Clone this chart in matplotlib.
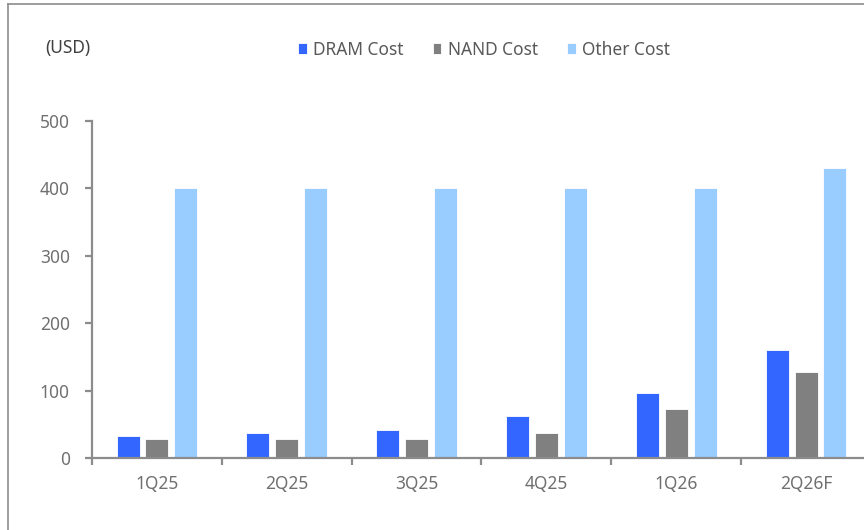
import matplotlib
matplotlib.use('Agg')
import matplotlib.pyplot as plt
from matplotlib.lines import Line2D
import numpy as np

plt.rcParams['font.family'] = ['Noto Sans', 'DejaVu Sans']

# values (USD)
quarters = ['1Q25', '2Q25', '3Q25', '4Q25', '1Q26', '2Q26F']
dram_cost = [33, 37, 41, 62, 96, 160]
nand_cost = [28, 28, 28, 37, 72, 127]
other_cost = [400, 400, 400, 400, 400, 430]
series_names = ['DRAM Cost', 'NAND Cost', 'Other Cost']
series_colors = ['#3366FF', '#808080', '#99CCFF']

fig = plt.figure(figsize=(8.64, 5.30), dpi=100)
# the axes run past the right edge, as in the cropped reference
ax = fig.add_axes([92 / 864, 1 - 458 / 530, 779 / 864, 337 / 530])

x = np.arange(len(quarters))
width = 0.178
step = 0.222
for i, (vals, name, col) in enumerate(zip([dram_cost, nand_cost, other_cost],
                                          series_names, series_colors)):
    ax.bar(x + (i - 1) * step, vals, width, color=col, label=name,
           edgecolor='white', linewidth=0.6, zorder=2)

ax.set_xlim(-0.5, len(quarters) - 0.5)
ax.set_ylim(0, 500)
ax.set_yticks(range(0, 501, 100))

for s in ['top', 'right']:
    ax.spines[s].set_visible(False)
for s in ['left', 'bottom']:
    ax.spines[s].set_color('#8c8c8c')
    ax.spines[s].set_linewidth(1.6)

ax.set_xticks(x)
ax.set_xticklabels(quarters)
ax.set_xticks(np.arange(-0.5, len(quarters)), minor=True)
ax.tick_params(axis='x', which='major', length=0, pad=12, labelsize=12.5,
               labelcolor='#707070')
ax.tick_params(axis='x', which='minor', length=5, width=1.6, color='#8c8c8c',
               direction='out')
ax.tick_params(axis='y', length=5, width=1.6, color='#8c8c8c', pad=11,
               labelsize=12.5, labelcolor='#707070')

fig.text(45 / 864, 1 - 48 / 530, '(USD)', fontsize=12.5, color='#404040',
         va='center', ha='left')

leg = fig.legend(loc='center', bbox_to_anchor=(484 / 864, 1 - 50 / 530), ncol=3,
                 frameon=False, fontsize=12.5, handlelength=0.5,
                 handleheight=0.6, handletextpad=0.35, columnspacing=1.7)
for t in leg.get_texts():
    t.set_color('#595959')

# outer frame lines (left and top) seen in the reference
fig.add_artist(Line2D([8 / 864, 8 / 864], [0, 1 - 4 / 530],
                      transform=fig.transFigure, color='#8c8c8c', lw=1.2))
fig.add_artist(Line2D([8 / 864, 1], [1 - 4 / 530, 1 - 4 / 530],
                      transform=fig.transFigure, color='#8c8c8c', lw=1.2))

fig.savefig('out.png', dpi=100)
